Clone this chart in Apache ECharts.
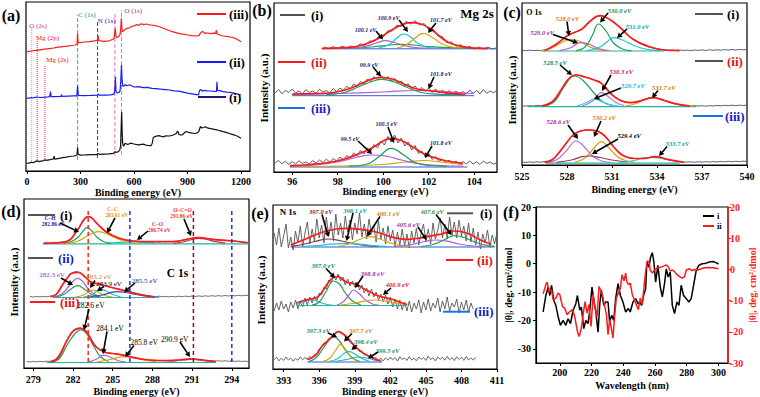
<!DOCTYPE html>
<html><head><meta charset="utf-8">
<script src="https://cdn.jsdelivr.net/npm/echarts@6.0.0/dist/echarts.min.js"></script>
<style>html,body{margin:0;padding:0;background:#fff;}#chart{width:760px;height:397px;}</style>
</head><body><div id="chart"></div>
<script>
// ================= DATA =================
// ---- (a) XPS survey (binding energy eV, intensity a.u.)
const aBlack = [[0,7.5],[15,8.2],[27,8.8],[35,8.3],[50,9.6],[58,10.3],[65,9.4],[80,9.9],[95,10.4],[101,11.2],[110,10.6],[130,11.3],[148,12.0],[152,14.8],[156,11.8],[180,12.7],[200,13.3],[220,13.8],[240,14.5],[260,15.0],[275,15.4],[281,16.2],[284,23.5],[287,16.8],[300,15.9],[330,16.1],[360,16.4],[390,16.3],[398,17.6],[405,16.6],[430,16.9],[460,17.1],[485,17.6],[493,19.4],[498,18.6],[510,19.2],[520,20.6],[525,25],[528,42],[531,59.3],[534,38],[537,27],[542,24.8],[550,27.7],[565,26.5],[580,27.8],[600,27.0],[625,26.2],[650,26.8],[675,25.5],[695,25.3],[702,27.5],[708,33.5],[720,34.6],[740,35.4],[760,34.2],[780,35.1],[800,35.0],[820,36.0],[835,37.2],[845,39.8],[853,36.3],[870,36.0],[885,38.6],[895,39.5],[905,38.7],[920,38.2],[940,37.5],[955,38.2],[965,40.2],[972,44.6],[980,43.0],[990,43.5],[1000,44.3],[1015,42.8],[1030,42.3],[1050,41.7],[1065,41.2],[1080,40.3],[1100,39.3],[1120,38.4],[1140,37.2],[1160,36.2],[1180,34.8],[1200,32.7]];
const aBlue = [[0,72.7],[20,73.1],[40,73.3],[55,74.0],[75,73.5],[100,73.8],[120,74.1],[128,74.3],[132,79.5],[136,74.3],[160,74.4],[190,74.6],[194,76.2],[198,74.6],[230,74.9],[260,75.1],[280,75.2],[284,85.3],[288,75.6],[320,75.4],[360,75.6],[398,75.9],[401,77.0],[405,75.8],[440,75.9],[470,76.2],[488,76.8],[493,82],[496,94.3],[499,80],[505,78],[515,78.5],[522,80],[526,90],[530,106],[533,92],[537,85],[542,84.5],[550,86.5],[560,85.3],[575,86.2],[600,84.0],[625,84.4],[650,83.4],[675,83.6],[700,82.7],[725,82.3],[750,81.8],[775,81.4],[800,81.0],[825,80.2],[850,79.8],[875,78.9],[900,77.8],[925,77.2],[950,76.4],[962,76.0],[967,80.6],[975,81.5],[983,79.8],[995,80.6],[1010,80.2],[1030,80.0],[1050,79.6],[1062,79.5],[1065,89.3],[1068,80.5],[1080,80.3],[1100,79.3],[1120,78.8],[1140,78.6],[1160,77.8],[1180,77.0],[1200,76.0]];
const aRed = [[0,119.3],[25,120.0],[50,120.6],[75,121.2],[100,121.8],[125,122.4],[150,123.0],[175,123.8],[200,124.3],[225,124.8],[250,125.5],[270,126.0],[281,126.8],[284,137.7],[287,128.0],[300,128.4],[320,129.0],[350,129.3],[380,130.2],[396,131.0],[399,135.5],[403,130.3],[430,129.6],[460,130.2],[480,131.5],[489,133],[495,142.7],[500,133.5],[510,134],[520,135.5],[525,140],[529,152.7],[533,141],[538,139.3],[548,141.3],[560,142.7],[575,143.2],[590,144.8],[600,145],[615,146.5],[625,145.6],[640,147.2],[655,146.4],[670,147.0],[685,146.2],[700,146.0],[725,145.2],[750,143.7],[775,142.0],[800,140.3],[825,138.9],[850,137.7],[875,136.8],[900,136.0],[925,135.4],[950,135.0],[965,135.6],[975,138.8],[985,139.5],[995,137.8],[1010,138.0],[1030,137.4],[1045,137.8],[1058,137.6],[1061,140.8],[1065,137.2],[1080,136.0],[1100,135.0],[1120,134.6],[1140,134.0],[1160,133.2],[1180,131.5],[1200,129.3]];
const aRefE = [27, 58, 101, 284, 396, 493, 530];
const aRefTop = [143, 131, 106, 156, 149, 159, 161];
const aRefBottom = [8, 9, 10, 11, 13, 15, 16];
const aTicks = [0, 300, 600, 900, 1200];

// ---- (b) Mg 2s
const bRawDx = 0.15;
const bRaw1X0 = 97.4, bRaw1Dx = 0.2;
const bRaw1 = [125.1,123.2,125.4,123.5,125.8,123.9,126.0,124.6,128.2,126.5,131.0,130.4,135.6,135.0,141.2,141.0,146.8,145.6,150.6,148.0,151.2,147.0,148.4,142.5,142.8,136.0,135.5,129.2,130.0,125.8,127.3,123.9,125.6,123.0,125.0,122.9,124.8,123.0,124.3];
const bRaw2X0 = 95.25;
const bRaw2 = [79.0,82.5,78.2,81.8,79.5,83.0,78.8,81.2,78.0,82.4,79.6,81.0,78.5,82.8,79.8,81.5,79.0,83.5,80.5,84.0,81.5,85.8,83.0,88.0,85.5,90.5,88.0,93.0,90.5,95.5,92.0,96.5,92.8,95.5,91.0,93.5,88.5,91.0,86.0,88.2,83.5,86.0,81.5,84.5,80.8,83.8,79.5,83.0,79.0,82.0,78.2,81.5,78.0,81.0,77.5,80.5,77.8,82.0,78.5,81.5,78.0,82.5,78.8,81.0,79.2,82.0];
const bRaw3X0 = 95.25;
const bRaw3 = [9.0,11.5,8.2,10.8,7.5,10.5,8.0,11.2,8.6,10.0,7.8,11.5,9.0,12.0,9.5,12.8,10.0,13.5,11.0,15.0,12.2,16.5,14.0,19.0,16.0,21.5,18.0,24.0,21.0,27.5,24.0,31.0,27.0,35.5,30.0,37.0,29.0,34.0,26.0,30.0,22.0,26.5,18.5,21.0,15.0,18.5,12.5,15.5,10.5,13.0,9.0,12.0,8.0,11.0,7.5,10.5,7.8,11.0,8.0,10.2,7.5,11.0,8.5,10.0,7.8,9.5];
const bEnv1 = [[97.3,123.7],[98.4,124.3],[99.1,127],[99.8,133.7],[100.25,140.3],[100.8,147],[101.2,149.3],[101.65,148],[102.1,142.7],[102.5,135.3],[102.9,129.3],[103.5,125.3],[104,123.9],[104.6,123.7]];
const bPur1 = [[98.5,124],[99.2,125.5],[99.7,129],[100.1,131.3],[100.5,129.5],[100.9,126.5],[101.4,124.5],[102,124]];
const bCya1 = [[99.8,124],[100.3,128],[100.6,134],[100.9,138],[101.2,135],[101.5,129],[101.9,125],[102.3,124]];
const bGld1 = [[100.6,124],[101.0,127],[101.35,133],[101.75,138.7],[102.2,134],[102.6,128],[103.0,125],[103.5,124]];
const bGrn1 = [[98.5,124],[99.5,125],[100.3,127],[100.8,127.7],[101.3,127],[102,125.5],[103,124.3],[104,124]];
const bBas1 = [[97.3,123.2],[105,123.2]];
const bEnv2 = [[96.0,78],[97,78.3],[97.8,79.5],[98.4,82.5],[99.0,88],[99.5,93],[99.9,94.7],[100.4,93],[100.9,88],[101.4,83.5],[101.9,81.5],[102.5,80],[103,78.7],[103.6,77.5]];
const bGrn2 = [[97.5,77.3],[98.3,79.5],[98.9,85],[99.5,90.5],[99.95,92.7],[100.5,90],[101,85],[101.6,80],[102.3,77.8],[103.5,77.2]];
const bPur2 = [[96.0,77.5],[98,78.5],[100,80],[101.5,81.5],[102,81.5],[103,80],[104,78.5]];
const bBas2 = [[96,76.3],[104,76.3]];
const bEnv3 = [[95.9,6.3],[96.8,7.5],[97.6,9.5],[98.3,13],[98.9,18],[99.5,24],[100.0,31],[100.35,33.7],[100.8,31.5],[101.3,25],[101.8,18],[102.3,14],[102.8,11],[103.5,8.7]];
const bPur3 = [[95.9,5.7],[97,7],[98,10],[98.8,14.5],[99.5,17],[100.2,15.5],[100.8,12],[101.5,8.5],[102.5,6.5],[103.5,6]];
const bGrn3 = [[98.5,5.8],[99.3,8],[99.8,15],[100.35,23.7],[100.9,17],[101.4,9.5],[102,6.5],[102.8,5.8]];
const bGld3 = [[96,5.5],[98,6],[100,7.5],[101,10],[101.8,11.5],[102.5,10],[103.5,7.5]];
const bBas3 = [[95.9,5],[103.7,5]];
const bTicks = [96, 98, 100, 102, 104];

// ---- (c) O 1s
const cRawX0 = 525, cRawDx = 0.25;
const cRaw1 = [114.8,114.3,114.9,114.4,114.7,114.5,115.0,116.0,118.0,120.5,123.0,126.5,129.0,131.0,132.8,134.0,136.0,139.5,143.0,146.0,148.5,149.5,148.5,146.5,144.0,141.0,137.5,134.0,130.5,127.5,125.0,122.5,120.5,119.0,117.8,116.8,116.0,115.5,115.2,114.8,115.1,114.6,115.0,114.5,114.9,114.4,115.0,114.6,115.1,114.5,115.3,114.7,115.2,114.8,115.4,114.9,115.5,115.0,115.6,115.2,115.5];
const cRaw2 = [59.3,58.8,59.4,59.0,59.5,59.2,60.0,61.5,63.5,67.0,72.5,78.5,84.5,88.0,90.0,89.8,88.8,88.0,86.8,85.5,84.0,82.0,79.0,75.0,71.0,67.5,65.0,63.5,62.8,62.3,62.8,63.8,65.0,66.3,67.2,67.5,66.8,65.5,64.3,63.0,62.0,61.2,60.3,59.8,59.5,59.0,59.4,58.9,59.3,58.8,59.4,59.0,59.6,59.1,59.7,59.2,59.8,59.3,59.9,59.5,59.8];
const cRaw3 = [3.0,2.5,3.1,2.6,3.2,2.8,3.4,4.0,5.5,8.5,12.5,17.5,22.5,27.5,31.0,33.2,34.3,35.0,35.2,34.8,34.0,32.2,29.0,25.0,20.5,16.0,12.3,9.5,8.0,7.0,6.5,6.4,6.6,7.0,7.6,8.1,8.0,7.2,6.2,5.3,4.5,3.8,3.3,3.0,2.8,3.2,2.7,3.3,2.8,3.4,2.9,3.5,3.0,3.6,3.1,3.7,3.2,3.8,3.3,3.9,3.4];
const cEnv1 = [[526.5,114.3],[527.2,120],[528,129],[528.5,132.5],[529,136],[529.5,143.3],[530.2,149.3],[530.9,145],[531.6,136.7],[532.4,125.7],[533.5,118.3],[534.5,115],[535.5,114.3]];
const cGld1 = [[526.3,114.3],[527,117],[527.6,122],[528.2,125.7],[528.8,124],[529.4,119],[530,115.5],[530.6,114.3]];
const cPur1 = [[527.5,114.3],[528.2,117],[528.9,122.3],[529.5,120.5],[530.1,116.5],[530.8,114.5]];
const cGrn1 = [[528.6,114.3],[529.2,118],[529.7,130],[530.1,141],[530.6,134],[531.1,122],[531.7,116],[532.3,114.3]];
const cCya1 = [[529.3,114.3],[530.2,118],[530.7,123.5],[531.1,127.3],[531.7,125],[532.4,120],[533.2,116],[534.2,114.3]];
const cBas1 = [[526.3,114],[534.5,114]];
const cEnv2 = [[526.3,59],[527.0,63],[527.6,75],[528.1,86],[528.6,90],[529.2,88],[529.8,85],[530.3,81.7],[530.9,71.7],[531.5,65],[532.2,62.3],[532.9,64],[533.7,67.3],[534.5,64.5],[535.1,61.7],[536.2,59]];
const cGrn2 = [[526.5,59],[527.2,64],[527.8,78],[528.5,89],[529.1,84],[529.8,72],[530.4,63],[531.1,59.5]];
const cPur2 = [[529.0,59],[529.6,63],[530.0,69],[530.3,72.3],[530.7,69],[531.2,63],[531.8,59.5]];
const cCya2 = [[528.7,59],[529.3,62.5],[529.8,66],[530.3,63.5],[530.9,60],[531.5,59]];
const cGld2 = [[531.9,59],[532.6,61.5],[533.2,65.5],[533.7,67.3],[534.3,65.5],[535.0,62],[535.8,59.5],[536.5,59]];
const cBas2 = [[525.4,58.3],[536.6,58.3]];
const cEnv3 = [[526.5,2.7],[527,5],[527.6,15],[528.4,30],[528.9,34],[529.4,35],[529.9,34.5],[530.3,31.7],[530.7,26],[531.1,18.3],[531.5,12],[531.9,8.3],[532.5,6.5],[533.2,6.7],[533.9,8.3],[534.7,5.7],[535.8,2.7]];
const cPur3 = [[526.8,2.7],[527.4,6],[528,15],[528.6,24],[529.1,19],[529.7,9],[530.3,4],[530.9,2.7]];
const cOrg3 = [[528.5,2.7],[529.2,7],[529.8,17],[530.3,23.3],[530.8,17],[531.4,8],[532,4],[532.5,2.7]];
const cBrn3 = [[527.3,2.7],[528.3,5],[529,8.3],[529.5,9],[530.2,7.5],[531,5],[532,3]];
const cCya3 = [[531.5,2.7],[532.3,4],[533,6.5],[533.6,7.7],[534.3,6.5],[535,4.5],[535.8,3]];
const cBas3 = [[526.6,1.8],[535.5,1.8]];
const cTicks = [525, 528, 531, 534, 537, 540];

// ---- (d) C 1s
const dRawDx = 0.25;
const dRaw1X0 = 279.75;
const dRaw1 = [124.8,125.3,124.6,125.1,124.9,125.5,125.8,126.6,128.5,131.5,136.0,141.0,146.5,150.0,151.5,149.5,145.5,141.5,138.0,136.0,133.5,131.8,130.5,129.5,128.8,128.0,127.8,127.2,127.0,126.5,126.7,126.2,126.5,126.0,126.4,125.9,126.5,126.0,126.6,126.3,126.9,127.0,127.8,128.5,129.2,129.8,130.5,130.6,130.2,129.8,129.0,128.8,128.2,128.0,127.8,127.5,127.6,127.3,127.0,126.5,126.0,125.5,125.2];
const dRaw2X0 = 278.75;
const dRaw2 = [71.5,71.0,71.6,71.1,71.7,71.2,71.8,72.5,74.0,78.5,84.0,89.0,93.0,95.5,96.5,95.5,93.0,90.0,87.0,85.5,84.5,83.8,83.0,82.0,81.0,80.3,79.5,78.8,78.0,77.0,76.2,75.5,74.5,73.8,73.0,72.5,72.0,71.6,71.3,71.8,71.2,71.7,71.1,71.6,71.2,71.8,71.3,71.9,71.4,72.0,71.5,72.1,71.6,72.2,71.7,72.3,71.8,72.4,71.9,72.5,72.0,72.6,72.1,72.7,72.2,72.8,72.3];
const dRaw3X0 = 278.5;
const dRaw3 = [6.5,6.0,6.6,6.1,6.7,6.2,6.8,6.5,7.5,9.5,14.0,20.5,27.0,32.5,37.0,39.5,40.3,39.0,36.0,32.0,26.5,21.5,18.5,16.8,15.8,15.0,14.5,14.0,13.6,13.2,12.5,11.5,10.8,10.0,9.3,8.8,8.3,8.0,7.6,7.8,7.3,7.6,7.2,7.7,7.6,8.0,8.2,8.6,8.8,9.2,9.0,8.8,8.2,7.8,7.5,7.1,7.4,6.9,7.3,6.8,7.2,6.7,7.1,6.6,7.0,6.5,6.9,6.4];
const dEnv1 = [[279.8,124.7],[281.5,126.3],[282.25,136.3],[282.9,149.7],[283.2,151.3],[283.8,144.7],[284.5,136.3],[285.5,129.7],[286.5,127],[287.8,126.3],[289.6,126.3],[290.6,128.7],[291.45,130.3],[292.6,128.7],[294.1,127],[295.2,125.3]];
const dGrn1 = [[281.3,124.7],[281.9,126.5],[282.4,131],[282.8,137.5],[283.05,140.3],[283.4,137.5],[283.8,131],[284.3,126.5],[284.9,124.7]];
const dGld1 = [[281.5,124.7],[282.3,126.5],[283.0,131.5],[283.6,135.5],[283.9,136.3],[284.4,135],[285.0,131.5],[285.6,128],[286.3,125.5],[287,124.7]];
const dMar1 = [[289.6,124.7],[290.3,126],[291.0,128.5],[291.5,129.7],[292.1,128.5],[292.8,126.3],[293.5,124.9]];
const dCya1 = [[284.5,124.7],[285.5,125.6],[286.4,126.3],[287.3,125.6],[288.2,124.8]];
const dBas1 = [[279.7,124.2],[295.3,124.2]];
const dEnv2 = [[280.3,71.3],[280.7,73],[281.2,83],[281.6,90.5],[281.9,94.7],[282.4,95.7],[282.9,91.3],[283.4,85.7],[284,83.7],[285,80.3],[286,77],[287,73.7],[288.05,71.3]];
const dPur2 = [[280.6,71],[281.2,74.5],[281.7,82],[282.1,88],[282.35,89.7],[282.7,87],[283.1,80],[283.6,74],[284.1,71.2]];
const dGrn2 = [[280.7,71],[281.3,73.5],[281.8,78.5],[282.35,82.3],[282.9,78.5],[283.4,73.5],[284,71.2]];
const dGld2 = [[282.2,71],[282.8,73],[283.3,77],[283.5,78],[283.9,76],[284.4,72.5],[285,71]];
const dCya2 = [[282.8,71],[283.4,73],[283.8,77],[284.05,78.7],[284.5,77],[285,73.5],[285.6,71.2]];
const dNav2 = [[283.2,71],[284.2,73],[285.0,75.8],[285.4,76.3],[286.0,75.5],[286.8,73.5],[287.6,71.8],[288.2,71]];
const dBas2 = [[280.5,70.5],[288.5,70.5]];
const dEnv3 = [[280.3,6.5],[280.7,8],[281.1,15],[281.5,26.3],[282.1,38],[282.6,39.7],[283.1,34.7],[283.6,23],[284.3,16.3],[285,14.5],[285.5,13.7],[286.5,10.7],[287.8,8],[289.05,7.3],[290,8],[290.6,8.7],[291.1,9],[291.6,8.3],[292.1,7.3],[292.8,6.5]];
const dGrn3 = [[280.4,6],[281,10],[281.6,24],[282.2,35],[282.6,38],[283.1,33],[283.6,21],[284.1,11],[284.7,6.5]];
const dPur3 = [[283.2,6],[283.8,9],[284.3,12.8],[284.8,11],[285.4,7.5],[286,6]];
const dGld3 = [[283.8,6],[284.8,8.5],[285.5,10.8],[285.9,11.3],[286.6,10.2],[287.4,8],[288.3,6.2]];
const dCya3 = [[289.2,6],[290,7.5],[290.9,8.7],[291.7,7.8],[292.5,6.2]];
const dBas3 = [[280,5.5],[292.8,5.5]];
const dRefE = [283.15, 286.3, 291.1, 294.0];
const dRefTop = 158, dRefBottom = 6;
const dTicks = [279, 282, 285, 288, 291, 294];

// ---- (e) N 1s
const eRawX0 = 392.2, eRawDx = 0.2;
const eRaw1 = [136,124,141,122,133,145,121,132,119,138,126,143,122,136,147,125,140,128,150,131,144,126,152,133,147,128,155,134,146,131,153,137,149,129,146,135,156,132,145,130,150,136,144,127,148,130,141,125,143,128,139,122,137,124,140,123,135,121,138,126,141,124,136,145,127,140,125,146,130,139,151,131,145,130,152,134,147,131,149,133,143,128,146,127,141,124,137,120,135,126,139,122,134,125,137];
const eRaw2 = [58,66,59,68,60,65,57,67,61,69,60,67,62,71,64,72,66,73,68,76,74,82,80,89,86,94,89,95,88,92,84,90,83,88,82,87,79,84,76,81,73,80,72,77,69,75,67,74,65,72,62,70,60,69,59,67,58,68,57,66,60,69,56,67,59,70,58,66,61,71,57,68,60,72,58,66,62,70,56,67,59,69,57,66,60];
const eRaw3 = [9.5,11.8,8.2,10.9,8.6,12.0,9.0,11.0,7.8,10.5,8.8,12.2,9.2,11.5,9.8,12.5,11.0,14.5,15.5,20.0,22.5,26.0,27.0,30.5,31.5,34.5,35.5,37.8,36.5,35.8,32.0,30.5,26.5,25.0,21.5,20.5,17.5,17.0,14.0,14.5,11.5,12.5,9.5,11.5,8.5,11.0,8.0,11.2,8.8,12.0,9.2,11.5,8.0,12.3,9.5,11.0,8.5,12.5,9.0,10.8,8.2,12.0,9.6,11.5,8.6,12.8,9.5,11.2,8.0,12.0,9.8,11.6,8.8,12.6,9.2,11.3,8.4,12.2,9.5,11.8,8.6,12.5,9.0,11.1,8.9,11.9];
const eEnv1 = [[393.6,124],[395,130.7],[396.4,137.3],[398.1,140.7],[399.5,139.7],[400.9,136.7],[402.3,131.3],[403.4,129.7],[404.8,131.7],[406.2,134.7],[407.4,138],[408.5,135.7],[409.6,129],[410.5,124.7]];
const eMar1 = [[393.6,122.5],[394.6,124.5],[395.6,127.5],[396.8,130],[397.9,128],[399,125],[400.2,123],[401,122.5]];
const eCya1 = [[394.5,122.5],[395.8,123.3],[397,124.8],[398.2,125.7],[399.4,124.8],[400.6,123.3],[401.8,122.5]];
const eGld1 = [[397.5,122.5],[398.5,125],[399.4,129.5],[400.2,132.3],[401.1,130],[402,126],[403,123.2],[403.8,122.5]];
const ePur1 = [[402.5,122.5],[403.8,124.5],[404.9,127.5],[405.8,129],[406.8,127.8],[407.8,125],[409,123],[410,122.5]];
const eGrn1 = [[404.6,122.5],[405.6,124.5],[406.6,129.5],[407.4,133.3],[408.2,131.5],[409.1,127],[410,123.8],[410.8,122.6]];
const eBas1 = [[393.6,122],[410.8,122]];
const eEnv2 = [[394.1,66],[394.7,68.5],[395.3,70],[395.8,71.5],[396.3,78],[396.8,87],[397.3,92],[397.6,92.3],[398.0,89],[398.4,86.5],[398.9,85.5],[399.3,83.5],[399.8,80],[400.3,77],[400.9,73.5],[401.5,71.5],[402.2,69.5],[402.9,66.5],[403.4,64.5]];
const eCya2 = [[394.1,64.5],[394.6,66.5],[395.1,68.8],[395.4,69],[395.9,67.5],[396.5,65],[397.1,64]];
const eGrn2 = [[395.4,64],[396.0,67],[396.6,78],[397.2,88],[397.7,85],[398.2,76],[398.8,68],[399.5,64.3]];
const ePur2 = [[397.5,64],[398.0,67],[398.5,74],[398.9,79],[399.4,75],[399.9,69],[400.5,65],[401,64]];
const eGld2 = [[397.8,64],[398.8,65.5],[399.8,67.8],[400.6,69],[401.5,68],[402.4,66],[403.4,64.3]];
const eBas2 = [[394.1,63.5],[403.4,63.5]];
const eEnv3 = [[395.0,9.5],[395.3,10.7],[395.8,15],[396.2,22.3],[396.7,28],[397.1,32.3],[397.6,37.3],[398.0,35],[398.3,32.3],[398.7,27],[399.2,20.7],[399.6,17],[400,14],[400.5,11.5],[400.9,9],[401.2,8.3]];
const eGrn3 = [[395.1,7.5],[395.7,11],[396.3,20],[396.8,28.5],[397.2,32.3],[397.7,28],[398.2,19],[398.8,11],[399.4,7.7]];
const eGld3 = [[396.3,7.5],[396.9,11],[397.4,19],[397.8,24.7],[398.2,20],[398.7,12],[399.2,8]];
const eCya3 = [[396.8,7.5],[397.5,10],[398.1,15.5],[398.5,17.3],[399,15],[399.6,10.5],[400.2,8]];
const eTea3 = [[397.3,7.5],[398.3,9.5],[399.3,12],[400,11],[400.8,8.5],[401.3,7.5]];
const eBas3 = [[395,7],[401.3,7]];
const eTicks = [393, 396, 399, 402, 405, 408, 411];

// ---- (f) CD spectra (wavelength nm, |θ|)
const fCurveI = [[189.5,-17],[191.2,-11.2],[192.7,-8.2],[193.7,-11.2],[194.8,-7.6],[196.2,-12.9],[197.5,-14.7],[199.0,-18.8],[200.4,-21.7],[202.1,-20],[203.8,-21.7],[205.2,-19.4],[206.7,-21.1],[208.4,-16.4],[210.1,-14.1],[211.1,-11.2],[212.6,-16.4],[213.6,-15.3],[215.1,-22.9],[216.4,-20],[217.8,-21.1],[218.9,-16.4],[220.3,-8.2],[221.6,-13.5],[222.6,-16.4],[224.1,-24.1],[225.2,-14.1],[226.2,-9.4],[227.7,-14.7],[228.9,-13.5],[230.4,-13.5],[231.4,-20.5],[232.7,-18.2],[234.0,-20],[235.2,-12.3],[236.7,-7],[238.2,-11.2],[239.8,-13.5],[241.5,-17],[243.2,-15.8],[244.4,-17],[246.1,-13.5],[247.8,-12.3],[249.3,-14.1],[250.3,-13.5],[251.6,-14.7],[252.8,-11.2],[254.1,-8.8],[254.9,0.6],[256.2,-1.2],[257.2,2.3],[258.3,3.9],[259.3,0.6],[260.4,-6.5],[261.8,-0.6],[263.3,-8.2],[264.6,-11.7],[266.0,-7],[267.1,-1.8],[268.3,-4.7],[269.6,-2.9],[270.9,-14.7],[272.3,-17.6],[273.8,-13.5],[275.1,-14.7],[276.5,-7.6],[278.0,-11.2],[279.7,-12.3],[281.3,-13.5],[282.8,-12.3],[284.3,-7.6],[286.0,-2.3],[287.6,-0.6],[289.7,0],[292.2,0.2],[294.3,0.6],[296.4,0.8],[298.5,0.4],[300.0,-0.1]];
const fCurveII = [[189.5,-7.8],[191.2,-4.9],[192.0,-4.1],[193.3,-7.1],[194.8,-6.5],[195.8,-9.7],[197.5,-9.2],[199.0,-7.6],[200.0,-8.1],[201.7,-11.9],[203.1,-12.4],[204.6,-14.5],[206.3,-13.5],[208.0,-12.9],[209.4,-15.1],[211.1,-19.9],[212.2,-21.5],[213.4,-19.3],[214.7,-14.5],[215.9,-10.3],[217.2,-14],[218.4,-11.3],[219.7,-18.3],[221.0,-8.1],[222.2,-12.4],[223.5,-15.1],[224.7,-5.5],[225.6,-6.5],[226.8,-8.1],[228.1,-11.3],[229.4,-14.5],[230.4,-20.9],[231.4,-16.1],[232.5,-18.8],[233.5,-22],[234.8,-13.5],[235.6,-9.2],[236.9,-7.6],[238.2,-6],[239.2,-1.7],[240.5,-3.7],[241.5,-1.2],[242.3,-4.1],[243.4,-4.9],[244.4,-4.4],[245.7,-8.1],[247.0,-9.7],[248.2,-11.3],[249.5,-12.9],[250.7,-9.2],[252.0,-11.3],[253.2,-4.9],[254.1,-0.7],[255.1,2.7],[256.2,2.5],[257.0,-0.2],[258.3,-1.2],[259.7,-0.2],[261.2,0.4],[262.9,0.6],[264.6,0.9],[266.0,1.2],[267.1,1.4],[268.3,0.9],[269.6,-0.5],[270.9,-0.2],[272.3,-0.7],[273.8,-1.7],[275.5,-2.3],[277.1,-2.8],[278.6,-2.3],[279.7,-0.2],[281.8,0.2],[283.4,-0.4],[284.9,0],[287.0,-0.2],[289.1,0.2],[291.2,0.5],[293.3,0.6],[296.4,0.5],[300.0,0.2]];
const fTicks = [200, 220, 240, 260, 280, 300];
const fLeftTicks = [-30, -20, -10, 0, 10, 20];

// ================= BUILD =================
const FONT = '"Liberation Serif", "Times New Roman", serif';
const C = { red:'#ff1a1a', pur:'#b25ad8', cya:'#18c4d8', gld:'#d9a400', grn:'#1e9f55', blu:'#2d5fd8', tea:'#22b3a3', mar:'#8b3048', raw:'#4a4a4a', nav:'#1a1a70' };
function seq(x0, dx, ys) { return ys.map((y, i) => [+(x0 + i * dx).toFixed(3), y]); }
const plain = function (v) { return String(v); };

const grids = [
  { left: 26, top: 2, width: 224, height: 169 },
  { left: 274, top: 3, width: 223, height: 169 },
  { left: 522, top: 3, width: 225, height: 162 },
  { left: 24, top: 199, width: 225, height: 169 },
  { left: 273, top: 205, width: 224, height: 164 },
  { left: 536, top: 207, width: 192, height: 156 }
].map(g => Object.assign({ show: true, borderColor: '#000', borderWidth: 1.2, backgroundColor: 'transparent' }, g));

function xa(g, min, max, ticks, name, gap, margin) {
  return { type: 'value', gridIndex: g, min: min, max: max, name: name, nameLocation: 'middle', nameGap: gap,
    nameTextStyle: { fontFamily: FONT, fontWeight: 'bold', fontSize: 10, color: '#000' },
    axisLine: { show: true, onZero: false, lineStyle: { color: '#000', width: 1.2 } },
    axisTick: { show: true, length: 3, customValues: ticks, lineStyle: { color: '#000', width: 1 } },
    axisLabel: { show: true, customValues: ticks, formatter: plain, margin: margin, fontFamily: FONT, fontWeight: 'bold', fontSize: 10, color: '#000' },
    splitLine: { show: false } };
}
const xAxes = [
  xa(0, -5, 1250, aTicks, 'Binding energy (eV)', 16, 5),
  xa(1, 95.2, 105, bTicks, 'Binding energy (eV)', 13, 4),
  xa(2, 525, 540, cTicks, 'Binding energy (eV)', 19, 6),
  xa(3, 278.3, 295.3, dTicks, 'Binding energy (eV)', 18, 6),
  xa(4, 392.1, 411, eTicks, 'Binding energy (eV)', 17, 6),
  xa(5, 185, 306, fTicks, 'Wavelength (nm)', 17, 4)
];
function yh(g, max) { return { type: 'value', gridIndex: g, min: 0, max: max, show: false, splitLine: { show: false } }; }
const yAxes = [yh(0, 169), yh(1, 169), yh(2, 162), yh(3, 169), yh(4, 164),
  { type: 'value', gridIndex: 5, position: 'left', min: -35, max: 20,
    name: '|θ|, deg. cm²/dmol', nameLocation: 'middle', nameGap: 19, nameRotate: 90,
    nameTextStyle: { fontFamily: FONT, fontWeight: 'bold', fontSize: 10, color: '#000' },
    axisLine: { show: true, onZero: false, lineStyle: { color: '#000', width: 1.2 } },
    axisTick: { show: true, length: 3, customValues: fLeftTicks, lineStyle: { color: '#000' } },
    axisLabel: { customValues: fLeftTicks, formatter: plain, margin: 5, fontFamily: FONT, fontWeight: 'bold', fontSize: 10, color: '#000' },
    splitLine: { show: false } },
  { type: 'value', gridIndex: 5, position: 'right', min: -30, max: 20, interval: 10,
    name: '|θ|, deg. cm²/dmol', nameLocation: 'middle', nameGap: 14, nameRotate: 90,
    nameTextStyle: { fontFamily: FONT, fontWeight: 'bold', fontSize: 10, color: '#ff1a1a' },
    axisLine: { show: true, onZero: false, lineStyle: { color: '#ff1a1a', width: 1.5 } },
    axisTick: { show: true, length: 3, lineStyle: { color: '#ff1a1a' } },
    axisLabel: { formatter: plain, margin: 2, fontFamily: FONT, fontWeight: 'bold', fontSize: 10, color: '#ff1a1a' },
    splitLine: { show: false } }
];

const series = [];
function add(g, data, color, w, opt, yIdx) {
  series.push(Object.assign({ type: 'line', xAxisIndex: g, yAxisIndex: (yIdx === undefined ? g : yIdx), data: data,
    symbol: 'none', showSymbol: false, silent: true, animation: false,
    lineStyle: { color: color, width: w }, itemStyle: { color: color } }, opt || {}));
}
const SM = { smooth: 0.45 };
function comp(g, data, color) { add(g, data, color, 1.2, SM); }
function env(g, data) { add(g, data, C.red, 1.7, Object.assign({ z: 5 }, SM)); }

// (a)
const aRefColor = ['#ff6fb0', '#ff3030', '#ff3030', '#20c0b0', '#2a3fd0', '#ff6fb0', '#ff6fb0'];
for (let i = 0; i < aRefE.length; i++) {
  add(0, [[aRefE[i], aRefBottom[i]], [aRefE[i], aRefTop[i]]], aRefColor[i], 1, { lineStyle: { color: aRefColor[i], width: 1, type: i >= 3 ? 'dashed' : 'dotted' } });
}
add(0, aBlack, '#111111', 1.2);
add(0, aBlue, '#1a1aff', 1.2);
add(0, aRed, '#ff1a1a', 1.2);

// (b)
add(1, seq(bRaw1X0, bRaw1Dx, bRaw1), C.raw, 0.9);
add(1, seq(bRaw2X0, bRawDx, bRaw2), C.raw, 0.9);
add(1, seq(bRaw3X0, bRawDx, bRaw3), C.raw, 0.9);
add(1, bBas1, C.blu, 1); add(1, bBas2, C.blu, 1); add(1, bBas3, C.blu, 1);
comp(1, bGrn1, C.grn); comp(1, bPur1, C.pur); comp(1, bCya1, C.cya); comp(1, bGld1, C.gld);
comp(1, bPur2, C.pur); comp(1, bGrn2, C.grn);
comp(1, bGld3, C.gld); comp(1, bPur3, C.pur); comp(1, bGrn3, C.grn);
env(1, bEnv1); env(1, bEnv2); env(1, bEnv3);

// (c)
add(2, seq(cRawX0, cRawDx, cRaw1), '#4d4d66', 0.9);
add(2, seq(cRawX0, cRawDx, cRaw2), '#4d4d66', 0.9);
add(2, seq(cRawX0, cRawDx, cRaw3), '#4d4d66', 0.9);
add(2, cBas1, C.tea, 1.2); add(2, cBas2, C.tea, 1.2); add(2, cBas3, C.tea, 1.2);
comp(2, cGld1, C.gld); comp(2, cPur1, C.pur); comp(2, cGrn1, C.grn); comp(2, cCya1, C.cya);
comp(2, cGrn2, C.grn); comp(2, cPur2, '#c070d8'); comp(2, cCya2, '#30c8e8'); comp(2, cGld2, C.gld);
comp(2, cPur3, '#b070e0'); comp(2, cOrg3, '#e0a000'); comp(2, cBrn3, '#8b4050'); comp(2, cCya3, '#20c8c8');
env(2, cEnv1); env(2, cEnv2); env(2, cEnv3);

// (d)
const dRefColor = ['#ff2020', '#2030e0', '#8b1030', '#2030e0'];
for (let i = 0; i < dRefE.length; i++) {
  add(3, [[dRefE[i], dRefBottom], [dRefE[i], dRefTop]], dRefColor[i], 1.5, { z: 6, lineStyle: { color: dRefColor[i], width: 1.5, type: [4, 3] } });
}
add(3, seq(dRaw1X0, dRawDx, dRaw1), '#606060', 0.9);
add(3, seq(dRaw2X0, dRawDx, dRaw2), '#606060', 0.9);
add(3, seq(dRaw3X0, dRawDx, dRaw3), '#606060', 0.9);
add(3, dBas1, C.tea, 1.2); add(3, dBas2, C.tea, 1.2); add(3, dBas3, C.tea, 1.2);
comp(3, dCya1, C.cya); comp(3, dGrn1, C.grn); comp(3, dGld1, C.gld); comp(3, dMar1, '#c03050');
comp(3, dPur2, C.pur); comp(3, dGrn2, C.grn); comp(3, dGld2, C.gld); comp(3, dCya2, C.cya); comp(3, dNav2, '#5040a0');
comp(3, dGrn3, C.grn); comp(3, dPur3, C.pur); comp(3, dGld3, C.gld); comp(3, dCya3, C.cya);
env(3, dEnv1); env(3, dEnv2); env(3, dEnv3);

// (e)
add(4, seq(eRawX0, eRawDx, eRaw1), '#555555', 0.9);
add(4, seq(eRawX0, eRawDx, eRaw2), '#555555', 0.9);
add(4, seq(eRawX0, eRawDx, eRaw3), '#555555', 0.9);
add(4, eBas1, C.blu, 1.2); add(4, eBas2, C.tea, 1.2); add(4, eBas3, C.blu, 1.2);
comp(4, eMar1, C.mar); comp(4, eCya1, C.cya); comp(4, eGld1, C.gld); comp(4, ePur1, C.pur); comp(4, eGrn1, C.grn);
comp(4, eCya2, C.cya); comp(4, eGrn2, C.grn); comp(4, ePur2, C.pur); comp(4, eGld2, C.gld);
comp(4, eGrn3, C.grn); comp(4, eGld3, C.gld); comp(4, eCya3, C.cya); comp(4, eTea3, C.tea);
env(4, eEnv1); env(4, eEnv2); env(4, eEnv3);

// (f)
add(5, fCurveI, '#000000', 1.5, null, 5);
add(5, fCurveII, '#ff1a1a', 1.5, null, 6);

// ================= ANNOTATIONS (graphic) =================
const G = [];
function T(s, x, y, size, color, o) {
  o = o || {};
  G.push({ type: 'text', x: x, y: y, rotation: o.rot || 0, z: 60, silent: true,
    style: { text: s, fill: color, font: (o.it ? 'italic ' : '') + (o.w || 'bold') + ' ' + size + 'px ' + FONT,
      textAlign: o.al || 'center', textVerticalAlign: 'middle' } });
}
function L(x1, x2, y, color) {
  G.push({ type: 'line', z: 60, silent: true, shape: { x1: x1, y1: y, x2: x2, y2: y }, style: { stroke: color, lineWidth: 2 } });
}
function A(x1, y1, x2, y2) {
  const a = Math.atan2(y2 - y1, x2 - x1), Lh = 5, W = 2.8;
  const bx = x2 - Lh * Math.cos(a), by = y2 - Lh * Math.sin(a);
  const px = -Math.sin(a) * W, py = Math.cos(a) * W;
  G.push({ type: 'line', z: 60, silent: true, shape: { x1: x1, y1: y1, x2: bx, y2: by }, style: { stroke: '#000', lineWidth: 1.6 } });
  G.push({ type: 'polygon', z: 60, silent: true, shape: { points: [[x2, y2], [bx + px, by + py], [bx - px, by - py]] }, style: { fill: '#000' } });
}
// panel letters
T('(a)', 11, 15, 16, '#000'); T('(b)', 262, 10, 16, '#000'); T('(c)', 512, 12, 16, '#000');
T('(d)', 11, 211, 16, '#000'); T('(e)', 260, 213, 16, '#000'); T('(f)', 511, 212, 16, '#000');
// y titles
T('Intensity (a.u.)', 264, 88, 11, '#000', { rot: Math.PI / 2 });
T('Intensity (a.u.)', 512, 90, 11, '#000', { rot: Math.PI / 2 });
T('Intensity (a.u.)', 14, 282, 11, '#000', { rot: Math.PI / 2 });
T('Intensity (a.u.)', 261, 290, 11, '#000', { rot: Math.PI / 2 });
// (a)
L(197, 226, 14, '#ff1a1a'); T('(iii)', 229, 14, 13, '#000', { al: 'left' });
L(197, 226, 62, '#1a1aff'); T('(ii)', 229, 62, 13, '#000', { al: 'left' });
L(198, 226, 97, C.nav); T('(i)', 229, 97, 13, '#000', { al: 'left' });
T('O (2s)', 38, 26, 7, '#c040a0', { w: 'normal' });
T('Mg (2p)', 47.5, 37.5, 7, '#e02020', { w: 'normal' });
T('Mg (2s)', 57.5, 60, 7, '#e02020', { w: 'normal' });
T('C (1s)', 87, 15, 7, '#109090', { w: 'normal' });
T('N (1s)', 106.7, 20.8, 7, '#2020c0', { w: 'normal' });
T('O (1s)', 133.3, 10.8, 7, '#b0307a', { w: 'normal' });
// (b)
L(280, 305, 15, '#555'); T('(i)', 311, 15, 13, '#000', { al: 'left' });
L(278, 305, 62, '#ff1a1a'); T('(ii)', 311, 62, 13, '#e81010', { al: 'left' });
L(278, 305, 108, '#1a70e0'); T('(iii)', 311, 108, 13, '#1020c0', { al: 'left' });
T('Mg 2s', 477, 13, 13, '#000');
const nb = C.nav;
T('100.1 eV', 365.5, 29.5, 6, nb, { it: 1 }); T('100.9 eV', 388.7, 17.5, 6, nb, { it: 1 }); T('101.7 eV', 440.8, 20, 6, nb, { it: 1 });
T('99.9 eV', 369, 64.7, 6, nb, { it: 1 }); T('101.8 eV', 440.8, 73.7, 6, nb, { it: 1 });
T('99.5 eV', 350, 138.7, 6, nb, { it: 1 }); T('100.3 eV', 386.3, 123.8, 6, nb, { it: 1 }); T('101.8 eV', 440.8, 143, 6, nb, { it: 1 });
A(376, 31, 383, 39.5); A(399, 20, 408, 32); A(436, 23, 428, 33);
A(373, 67, 381, 76.5); A(434, 77, 428.5, 89);
A(358, 141, 372, 154); A(388, 127, 394, 143); A(432, 146, 425, 158);
// (c)
L(695, 723, 14, '#555'); T('(i)', 727, 14, 13, '#000', { al: 'left' });
L(695, 723, 61, '#555'); T('(ii)', 727, 61, 13, '#e81010', { al: 'left' });
L(693, 723, 116, '#1a70e0'); T('(iii)', 725, 116, 13, '#1020c0', { al: 'left' });
T('O 1s', 534, 12, 8, '#000');
T('528.0 eV', 567.5, 18.3, 6.5, '#e08020', { it: 1 }); T('529.0 eV', 542.3, 32.8, 6.5, '#9b30b0', { it: 1 });
T('530.0 eV', 619.5, 10.8, 6.5, '#209050', { it: 1 }); T('531.0 eV', 637.5, 26.5, 6.5, '#10a0a0', { it: 1 });
T('528.5 eV', 555, 62.5, 6.5, '#209050', { it: 1 }); T('530.3 eV', 621.3, 71.7, 6.5, '#d02070', { it: 1 });
T('529.7 eV', 633, 85.8, 6.5, '#20b0d0', { it: 1 }); T('533.7 eV', 663.8, 87.5, 6.5, '#d08010', { it: 1 });
T('528.6 eV', 558.3, 121.7, 6.5, '#9b30b0', { it: 1 }); T('530.2 eV', 604.2, 117.5, 6.5, '#e08020', { it: 1 });
T('529.4 eV', 629.2, 135.8, 6.5, '#000', { it: 1 }); T('533.7 eV', 677.5, 143.2, 6.5, '#10a0a0', { it: 1 });
A(567, 21.5, 569, 36); A(553, 34.5, 578, 43); A(608, 13, 600, 22.5); A(627, 29, 617, 38);
A(560, 65, 572, 75); A(611, 75, 602, 91); A(621, 88, 594, 99); A(658, 90.5, 652, 98);
A(568, 125, 578, 139); A(601, 121, 594, 137); A(618, 139, 592, 154); A(667, 146.5, 659, 156);
// (d)
L(28, 55, 215, '#555'); T('(i)', 60, 215, 13, '#000', { al: 'left' });
L(28, 53, 258, '#555'); T('(ii)', 58, 258, 13, '#1020c0', { al: 'left' });
L(30, 55, 302, '#ff1a1a'); T('(iii)', 60, 302, 13, '#e81010', { al: 'left' });
T('C 1s', 177.5, 272.5, 11.5, '#000');
T('C–H', 50, 218.3, 5.5, '#2020a0'); T('282.86 eV', 53.3, 224.3, 5.5, '#2020a0');
T('C–C', 112.5, 208.8, 5.5, '#e09020'); T('283.61 eV', 116.7, 214.8, 5.5, '#e09020');
T('C–O', 157.5, 224.2, 5.5, '#ff3030'); T('286.74 eV', 159.2, 229.5, 5.5, '#ff3030');
T('O–C=O', 182.5, 210.3, 5.5, '#ff3030'); T('291.86 eV', 181.7, 216.2, 5.5, '#ff3030');
T('282.3 eV', 52, 275.3, 7, '#9b30c0', { w: 'normal' }); T('283.2 eV', 99, 276.8, 7, '#d08010', { w: 'normal' });
T('283.9 eV', 109, 284, 7, '#000', { w: 'normal' }); T('285.5 eV', 144.7, 280.7, 7, '#1a1a80', { w: 'normal' });
T('282.6 eV', 90.8, 305.8, 7.5, '#000', { w: 'normal' }); T('284.1 eV', 110, 328.3, 7.5, '#000', { w: 'normal' });
T('285.8 eV', 144.2, 342.5, 7.5, '#000', { w: 'normal' }); T('290.9 eV', 174.7, 339.2, 7.5, '#000', { w: 'normal' });
A(60, 223, 79, 232); A(115, 218, 107, 233); A(148, 231, 137, 240); A(184, 219, 191, 236);
A(61, 278, 73, 285); A(95, 280.5, 90, 288); A(104, 286.5, 97, 291); A(135, 283, 124, 292);
A(89, 309, 84, 330); A(107, 331.5, 103, 354); A(134, 345.5, 125, 357); A(180, 342, 190, 357);
// (e)
L(447, 473, 213.3, '#555'); T('(i)', 480, 213.3, 13, '#000', { al: 'left' });
L(446, 473, 260, '#ff1a1a'); T('(ii)', 477, 260, 13, '#e81010', { al: 'left' });
L(443, 470, 311.7, '#1a70e0'); T('(iii)', 474, 311.7, 13, '#1020c0', { al: 'left' });
T('N 1s', 288, 212, 9, '#000');
T('397.0 eV', 320.8, 211.3, 6.5, '#8b1a3a', { it: 1 }); T('398.1 eV', 355, 210, 6.5, '#10a0a0', { it: 1 });
T('400.1 eV', 388.3, 213.3, 6.5, '#d08010', { it: 1 }); T('405.6 eV', 408.3, 224.2, 6.5, '#9b30b0', { it: 1 });
T('407.6 eV', 432.2, 211.3, 6.5, '#209050', { it: 1 });
T('397.0 eV', 323.3, 265.8, 6.5, '#209050', { it: 1 }); T('398.8 eV', 372.5, 273.3, 6.5, '#9b30b0', { it: 1 });
T('400.9 eV', 397.5, 284.8, 6.5, '#e02020', { it: 1 });
T('397.3 eV', 318.3, 330.8, 6.5, '#109070', { it: 1 }); T('397.7 eV', 360.8, 330.8, 6.5, '#e08020', { it: 1 });
T('398.4 eV', 365.8, 341.7, 6.5, '#109070', { it: 1 }); T('399.5 eV', 387.5, 350, 6.5, '#109070', { it: 1 });
A(322, 214.5, 328.5, 237); A(353, 213, 346.5, 241); A(380, 216.5, 367, 236.5); A(418, 227, 426.5, 240); A(436, 214.5, 451.5, 235);
A(326, 268.5, 335, 278); A(363, 276, 355, 288); A(391, 288, 383, 295);
A(328, 333, 337, 337); A(352, 333.5, 344, 341.5); A(357, 345, 351.5, 350); A(378, 352, 368, 358.5);
// (f)
L(703, 714, 216, '#000'); T('i', 717, 216, 8.5, '#000', { al: 'left' });
L(703, 714, 226, '#ff1a1a'); T('ii', 717, 226, 8.5, '#000', { al: 'left' });

const chart = echarts.init(document.getElementById('chart'), null, { renderer: 'svg', width: 760, height: 397 });
chart.setOption({ animation: false, backgroundColor: '#fff', grid: grids, xAxis: xAxes, yAxis: yAxes, series: series, graphic: { elements: G } });
</script></body></html>
